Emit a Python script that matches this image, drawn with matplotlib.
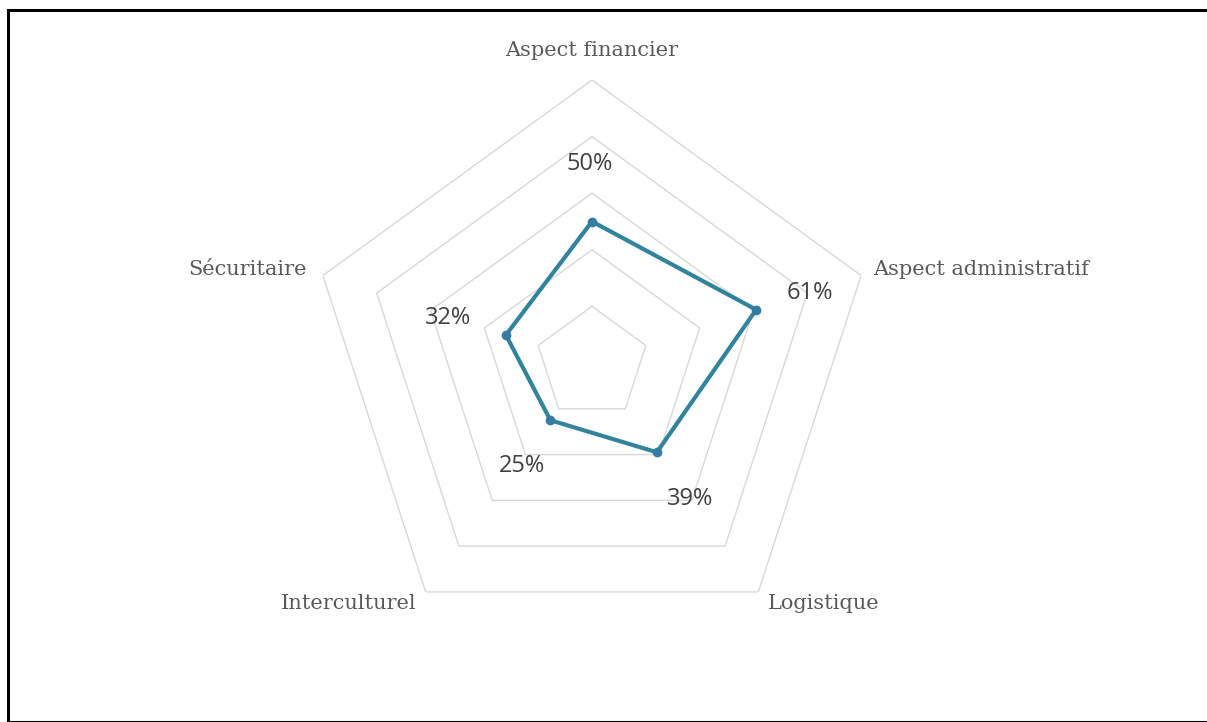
import numpy as np
import matplotlib
matplotlib.use("Agg")
import matplotlib.pyplot as plt
from matplotlib.patches import Rectangle

categories = ["Aspect financier", "Aspect administratif", "Logistique", "Interculturel", "Sécuritaire"]
values = [0.50, 0.61, 0.39, 0.25, 0.32]
value_labels = ["50%", "61%", "39%", "25%", "32%"]
ring_levels = [0.2, 0.4, 0.6, 0.8, 1.0]

W, H, DPI = 1207, 722, 100
fig = plt.figure(figsize=(W / DPI, H / DPI), dpi=DPI)

cx, cy, R = 592, 363, 283
ax = fig.add_axes([(cx - R) / W, (H - cy - R) / H, 2 * R / W, 2 * R / H], projection="polar")
ax.set_theta_offset(np.pi / 2)
ax.set_theta_direction(-1)
ax.set_ylim(0, 1)
ax.grid(False)
ax.set_xticks([])
ax.set_yticks([])
ax.spines["polar"].set_visible(False)
ax.patch.set_alpha(0)

n = len(categories)
theta = np.arange(n) * 2 * np.pi / n
theta_c = np.append(theta, theta[0])

for lv in ring_levels:
    ax.plot(theta_c, [lv] * (n + 1), color="#D9D9D9", lw=1.0, zorder=1)

vals_c = values + values[:1]
ax.plot(theta_c, vals_c, color="#31849B", lw=3.0, zorder=3, solid_joinstyle="miter")
ax.plot(theta, values, "o", color="#357CA0", ms=6, zorder=4)

serif = ["DejaVu Serif"]
cat_specs = [
    ((0, 30), "center"),
    ((12, 6), "left"),
    ((10, -12), "left"),
    ((-9, -12), "right"),
    ((-16, 6), "right"),
]
for t, lab, (off, ha) in zip(theta, categories, cat_specs):
    ax.annotate(lab, xy=(t, 1.0), xytext=off, textcoords="offset pixels",
                ha=ha, va="center", fontsize=15, color="#595959", family=serif,
                annotation_clip=False)

lab_offsets = [(-2, 57), (54, 17), (33, -47), (-28, -46), (-58, 17)]
for t, v, lab, off in zip(theta, values, value_labels, lab_offsets):
    ax.annotate(lab, xy=(t, v), xytext=off, textcoords="offset pixels",
                ha="center", va="center", fontsize=17, color="#404040",
                family=["Open Sans", "DejaVu Sans"], annotation_clip=False)

fig.patches.append(Rectangle((8 / W, 0), 1.2, (H - 10) / H, transform=fig.transFigure,
                             fill=False, edgecolor="black", lw=2.2, zorder=10))

fig.savefig("out.png", dpi=DPI, facecolor="white")
